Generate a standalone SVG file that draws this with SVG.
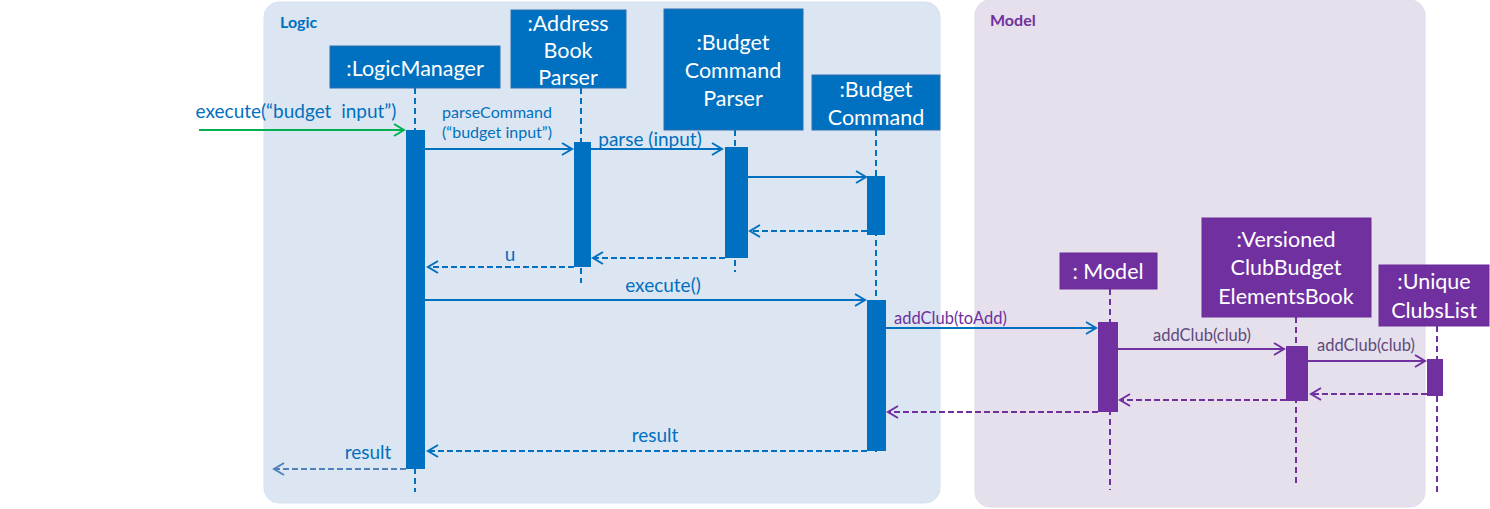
<svg xmlns="http://www.w3.org/2000/svg" width="1490" height="509" viewBox="0 0 1490 509">
<defs>
<style>
.frameL{fill:#dce6f2;stroke:#d6e1f0;stroke-width:1}
.frameM{fill:#e6e0ec;stroke:#e1dbea;stroke-width:1}
.boxB{fill:#0070c0;stroke:#2f6fb0;stroke-width:1}
.boxP{fill:#7030a0;stroke:#6a2d99;stroke-width:1}
.bt{font-family:Lato,"Liberation Sans",sans-serif;font-size:21.5px;fill:#fff;text-anchor:middle}
.ft{font-family:Lato,"Liberation Sans",sans-serif;font-size:16px;font-weight:bold}
.mt{font-family:Lato,"Liberation Sans",sans-serif;text-anchor:middle}
.lifeB{stroke:#0070c0;stroke-width:2;stroke-dasharray:6,4;fill:none}
.lifeP{stroke:#7030a0;stroke-width:2;stroke-dasharray:6,4;fill:none}
.sB{stroke:#0070c0;stroke-width:2;fill:none}
.dB{stroke:#0070c0;stroke-width:2;fill:none;stroke-dasharray:6,3}
.sP{stroke:#7030a0;stroke-width:2;fill:none}
.dP{stroke:#7030a0;stroke-width:2;fill:none;stroke-dasharray:6,3}
</style>
<marker id="aB" markerWidth="14" markerHeight="14" refX="12" refY="7" orient="auto" markerUnits="userSpaceOnUse"><path d="M2,1 L12,7 L2,13" fill="none" stroke="#0070c0" stroke-width="2"/></marker>
<marker id="aP" markerWidth="14" markerHeight="14" refX="12" refY="7" orient="auto" markerUnits="userSpaceOnUse"><path d="M2,1 L12,7 L2,13" fill="none" stroke="#7030a0" stroke-width="2"/></marker>
<marker id="aG" markerWidth="14" markerHeight="14" refX="12" refY="7" orient="auto" markerUnits="userSpaceOnUse"><path d="M2,1 L12,7 L2,13" fill="none" stroke="#00b050" stroke-width="2"/></marker>
<marker id="aL" markerWidth="14" markerHeight="14" refX="12" refY="7" orient="auto" markerUnits="userSpaceOnUse"><path d="M2,1 L12,7 L2,13" fill="none" stroke="#4f81bd" stroke-width="2"/></marker>
</defs>
<rect width="1490" height="509" fill="#fff"/>
<g id="frame-logic">
<rect class="frameL" x="264" y="2" width="676" height="501" rx="15"/>
<text class="ft" x="280" y="28" fill="#0070c0">Logic</text>
</g>
<g id="frame-model">
<rect class="frameM" x="975" y="0" width="450" height="507" rx="15"/>
<text class="ft" x="990" y="26" fill="#7030a0">Model</text>
</g>
<g id="lifelines">
<line class="lifeB" x1="415" y1="88" x2="415" y2="492"/>
<line class="lifeB" x1="581" y1="88" x2="581" y2="283"/>
<line class="lifeB" x1="735" y1="130" x2="735" y2="272"/>
<line class="lifeB" x1="876" y1="130" x2="876" y2="452"/>
<line class="lifeP" x1="1110" y1="289" x2="1110" y2="490"/>
<line class="lifeP" x1="1296" y1="317" x2="1296" y2="483"/>
<line class="lifeP" x1="1437" y1="326" x2="1437" y2="493"/>
</g>
<g id="LogicManager">
<rect class="boxB" x="330" y="46" width="170" height="42"/>
<text class="bt" x="415" y="76">:LogicManager</text>
<rect fill="#0070c0" x="406" y="130" width="19" height="339"/>
</g>
<g id="AddressBookParser">
<rect class="boxB" x="511" y="10" width="115" height="78"/>
<text class="bt" x="568" y="31">:Address</text>
<text class="bt" x="568" y="58">Book</text>
<text class="bt" x="568" y="85">Parser</text>
<rect fill="#0070c0" x="574" y="142" width="17" height="125"/>
</g>
<g id="BudgetCommandParser">
<rect class="boxB" x="664" y="9" width="139" height="121"/>
<text class="bt" x="733" y="50">:Budget</text>
<text class="bt" x="733" y="78">Command</text>
<text class="bt" x="733" y="106">Parser</text>
<rect fill="#0070c0" x="725" y="147" width="23" height="111"/>
</g>
<g id="BudgetCommand">
<rect class="boxB" x="812" y="75" width="128" height="55"/>
<text class="bt" x="876" y="97">:Budget</text>
<text class="bt" x="876" y="125">Command</text>
<rect fill="#0070c0" x="867" y="176" width="18" height="59"/>
<rect fill="#0070c0" x="867" y="300" width="19" height="151"/>
</g>
<g id="Model">
<rect class="boxP" x="1060" y="253" width="97" height="36"/>
<text class="bt" x="1108" y="279">: Model</text>
<rect fill="#7030a0" x="1098" y="322" width="20" height="90"/>
</g>
<g id="VersionedClubBudgetElementsBook">
<rect class="boxP" x="1202" y="218" width="169" height="99"/>
<text class="bt" x="1286" y="247">:Versioned</text>
<text class="bt" x="1286" y="275">ClubBudget</text>
<text class="bt" x="1286" y="304">ElementsBook</text>
<rect fill="#7030a0" x="1286" y="346" width="22" height="55"/>
</g>
<g id="UniqueClubsList">
<rect class="boxP" x="1379" y="265" width="110" height="61"/>
<text class="bt" x="1434" y="289">:Unique</text>
<text class="bt" x="1434" y="318">ClubsList</text>
<rect fill="#7030a0" x="1427" y="359" width="16" height="37"/>
</g>
<g id="connectors">
<line stroke="#00b050" stroke-width="2" x1="199" y1="130" x2="404" y2="130" marker-end="url(#aG)"/>
<text class="mt" x="296" y="118" font-size="19" fill="#0070c0" xml:space="preserve">execute(“budget  input”)</text>
<line class="sB" x1="425" y1="149" x2="572" y2="149" marker-end="url(#aB)"/>
<text class="mt" x="497" y="118" font-size="16" fill="#0070c0">parseCommand</text>
<text class="mt" x="497" y="138" font-size="16" fill="#0070c0">(“budget input”)</text>
<line class="sB" x1="591" y1="149" x2="722" y2="149" marker-end="url(#aB)"/>
<text class="mt" x="650" y="146" font-size="19" fill="#0070c0">parse (input)</text>
<line class="sB" x1="748" y1="177" x2="866" y2="177" marker-end="url(#aB)"/>
<line class="dB" x1="867" y1="231" x2="750" y2="231" marker-end="url(#aB)"/>
<line class="dB" x1="725" y1="258" x2="593" y2="258" marker-end="url(#aB)"/>
<line class="dB" x1="574" y1="267" x2="428" y2="267" marker-end="url(#aB)"/>
<text class="mt" x="510" y="261" font-size="19" fill="#0070c0">u</text>
<line class="sB" x1="425" y1="300" x2="865" y2="300" marker-end="url(#aB)"/>
<text class="mt" x="663" y="292" font-size="19" fill="#0070c0">execute()</text>
<line class="sB" x1="886" y1="328" x2="1096" y2="328" marker-end="url(#aB)"/>
<text x="894" y="324" font-family="Lato,'Liberation Sans',sans-serif" font-size="16.5" fill="#7030a0">addClub(toAdd)</text>
<line class="sP" x1="1118" y1="349" x2="1284" y2="349" marker-end="url(#aP)"/>
<text class="mt" x="1202" y="341" font-size="16.5" fill="#604a7b">addClub(club)</text>
<line class="sP" x1="1308" y1="361" x2="1425" y2="361" marker-end="url(#aP)"/>
<text class="mt" x="1366" y="351" font-size="16.5" fill="#604a7b">addClub(club)</text>
<line class="dP" x1="1427" y1="394" x2="1311" y2="394" marker-end="url(#aP)"/>
<line class="dP" x1="1286" y1="400" x2="1120" y2="400" marker-end="url(#aP)"/>
<line class="dP" x1="1098" y1="412" x2="888" y2="412" marker-end="url(#aP)"/>
<line class="dB" x1="867" y1="451" x2="428" y2="451" marker-end="url(#aB)"/>
<text class="mt" x="655" y="442" font-size="19" fill="#0070c0">result</text>
<line stroke="#4f81bd" stroke-width="2" stroke-dasharray="6,3" x1="406" y1="469" x2="274" y2="469" marker-end="url(#aL)"/>
<text class="mt" x="368" y="459" font-size="19" fill="#0070c0">result</text>
</g>
</svg>
